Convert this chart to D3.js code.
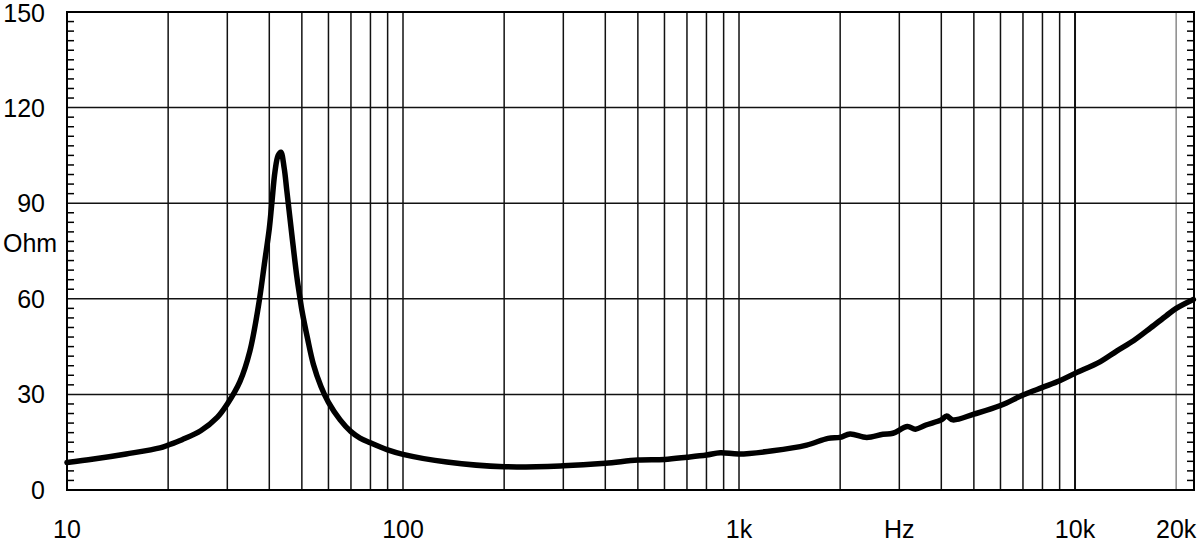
<!DOCTYPE html>
<html>
<head>
<meta charset="utf-8">
<script src="https://cdn.jsdelivr.net/npm/d3@7"></script>
<style>
  html, body { margin: 0; padding: 0; background: #fff; }
  svg { display: block; }
  text { font-family: "Liberation Sans", Arial, sans-serif; fill: #000; }
</style>
</head>
<body>
<svg id="chart" width="1200" height="547"></svg>
<script>
// ---- data ----
const freqHz = [10, 12, 15, 18.9, 20, 22, 25, 28, 30, 32.7, 35, 37.1, 38.8, 40, 40.7, 41.6, 42.5, 43.3, 44.3, 45.1, 46.7, 48.3, 49.4, 50, 52, 54.1, 57, 60, 65, 70, 74.5, 80, 90, 100, 135, 200, 300, 400, 500, 600, 700, 800, 880, 1000, 1260, 1590, 1840, 2000, 2140, 2400, 2680, 2870, 3170, 3350, 3600, 4000, 4150, 4330, 5000, 6000, 7000, 8000, 9000, 10000, 11900, 13300, 15000, 16800, 18700, 20000, 22500];
const impedanceOhm = [8.6, 9.7, 11.3, 13.2, 14.1, 15.8, 18.6, 22.8, 27, 34, 43.5, 57.5, 72, 82, 90, 100, 105, 106, 101, 94, 80, 67, 60, 56.5, 47.5, 39.5, 32.5, 27.5, 22, 18.3, 16.3, 14.8, 12.6, 11.2, 8.8, 7.3, 7.6, 8.4, 9.4, 9.6, 10.3, 11, 11.7, 11.3, 12.3, 14.1, 16.2, 16.5, 17.6, 16.5, 17.5, 17.8, 19.9, 19.1, 20.4, 22, 23.2, 22, 23.8, 26.5, 29.8, 32.2, 34.3, 36.6, 40.3, 43.6, 47, 50.9, 54.7, 57, 59.8];
const xGridFreqs = [20, 30, 40, 50, 60, 70, 80, 90, 100, 200, 300, 400, 500, 600, 700, 800, 900, 1000, 2000, 3000, 4000, 5000, 6000, 7000, 8000, 9000, 10000, 20000];
const xLabels = [
  {f: 10, t: "10"}, {f: 100, t: "100"}, {f: 1000, t: "1k"},
  {f: 3000, t: "Hz"}, {f: 10000, t: "10k"}, {f: 20000, t: "20k"}
];
const yMajorTicks = [0, 30, 60, 90, 120, 150];
const yUnitLabel = "Ohm";

// ---- layout ----
const mLeft = 67, mRight = 1194, mTop = 12, mBottom = 490;
const svg = d3.select("#chart");
const x = d3.scaleLog().domain([10, 22600]).range([mLeft, mRight]);
const y = d3.scaleLinear().domain([0, 150]).range([mBottom, mTop]);

// minor y ticks every 3 Ohm
const yMinor = d3.range(3, 150, 3).filter(v => v % 30 !== 0);

const g = svg.append("g");

// vertical grid
g.selectAll("line.vg").data(xGridFreqs).enter().append("line")
  .attr("x1", d => x(d)).attr("x2", d => x(d))
  .attr("y1", mTop).attr("y2", mBottom)
  .attr("stroke", d => d === 20000 ? "#8a8a8a" : "#111")
  .attr("stroke-width", d => d === 10000 ? 2 : 1.5);

// horizontal grid
g.selectAll("line.hg").data(yMajorTicks.filter(v => v > 0 && v < 150)).enter().append("line")
  .attr("x1", mLeft).attr("x2", mRight)
  .attr("y1", d => y(d)).attr("y2", d => y(d))
  .attr("stroke", "#111").attr("stroke-width", 1.5);

// minor ticks left & right
g.selectAll("line.mtl").data(yMinor).enter().append("line")
  .attr("x1", mLeft).attr("x2", mLeft + 7)
  .attr("y1", d => y(d)).attr("y2", d => y(d))
  .attr("stroke", "#000").attr("stroke-width", 1.5);
g.selectAll("line.mtr").data(yMinor).enter().append("line")
  .attr("x1", mRight - 7).attr("x2", mRight)
  .attr("y1", d => y(d)).attr("y2", d => y(d))
  .attr("stroke", "#000").attr("stroke-width", 1.5);

// border
g.append("rect")
  .attr("x", mLeft).attr("y", mTop)
  .attr("width", mRight - mLeft).attr("height", mBottom - mTop)
  .attr("fill", "none").attr("stroke", "#000").attr("stroke-width", 2);

// curve
const pts = freqHz.map((f, i) => [f, impedanceOhm[i]]);
const line = d3.line().x(d => x(d[0])).y(d => y(d[1])).curve(d3.curveCatmullRom.alpha(0.5));
g.append("path").datum(pts)
  .attr("d", line)
  .attr("fill", "none").attr("stroke", "#000")
  .attr("stroke-width", 5.5).attr("stroke-linejoin", "round").attr("stroke-linecap", "round");

// y labels
g.selectAll("text.yl").data(yMajorTicks).enter().append("text")
  .attr("x", 45).attr("y", d => Math.max(y(d), 13))
  .attr("dy", "0.36em")
  .attr("text-anchor", "end")
  .attr("font-size", 25)
  .text(d => d);
g.append("text").attr("x", 3).attr("y", 243).attr("dy", "0.36em")
  .attr("font-size", 25).text(yUnitLabel);

// x labels
g.selectAll("text.xl").data(xLabels).enter().append("text")
  .attr("x", d => x(d.f)).attr("y", 538)
  .attr("text-anchor", "middle")
  .attr("font-size", 25)
  .text(d => d.t);
</script>
</body>
</html>
